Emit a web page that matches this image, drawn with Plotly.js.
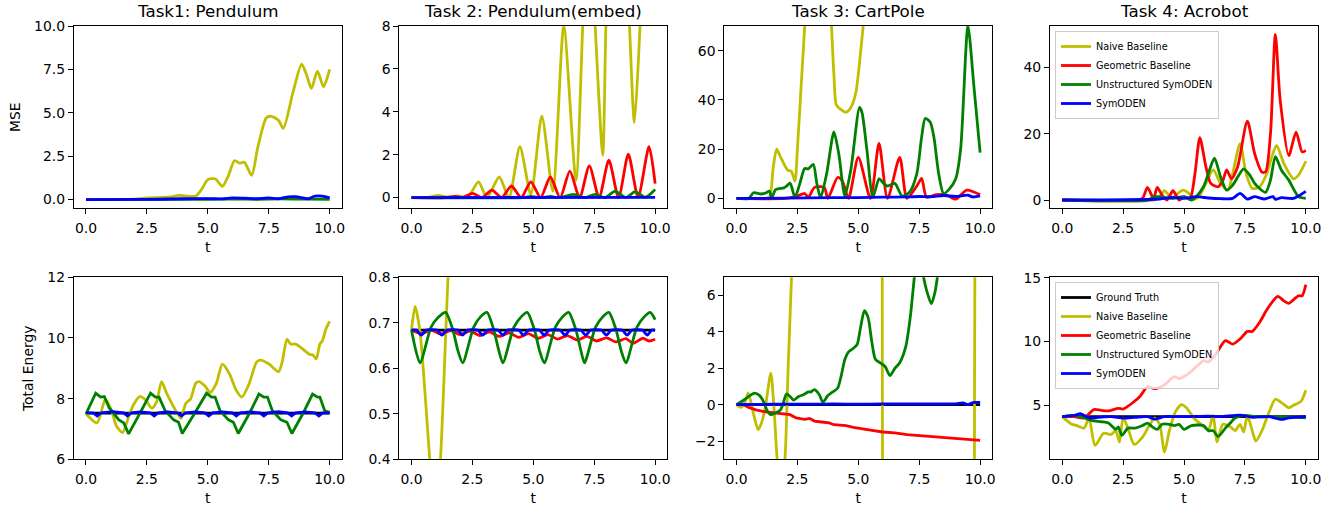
<!DOCTYPE html>
<html><head><meta charset="utf-8">
<script src="https://cdn.plot.ly/plotly-3.0.1.min.js"></script>
<style>html,body{margin:0;padding:0;background:#fff;} #chart{width:1341px;height:510px;}</style>
</head><body><div id="chart"></div>
<script>
// ---------- tick labels ----------
const T_TICKS = [0, 2.5, 5, 7.5, 10];
const T_TEXT = ['0.0', '2.5', '5.0', '7.5', '10.0'];
const Y1_TICKS = [0, 2.5, 5, 7.5, 10];
const Y1_TEXT = ['0.0', '2.5', '5.0', '7.5', '10.0'];
const Y2_TICKS = [0, 2, 4, 6, 8];
const Y3_TICKS = [0, 20, 40, 60];
const Y4_TICKS = [0, 20, 40];
const Y5_TICKS = [6, 8, 10, 12];
const Y6_TICKS = [0.4, 0.5, 0.6, 0.7, 0.8];
const Y6_TEXT = ['0.4', '0.5', '0.6', '0.7', '0.8'];
const Y7_TICKS = [-2, 0, 2, 4, 6];
const Y7_TEXT = ['\u22122', '0', '2', '4', '6'];
const Y8_TICKS = [5, 10, 15];

const TITLES = ['Task1: Pendulum', 'Task 2: Pendulum(embed)', 'Task 3: CartPole', 'Task 4: Acrobot'];

// ---------- Task 1 MSE ----------
const naive1_t = [0, 1, 2, 2.5, 3, 3.5, 3.8, 4.2, 4.5, 4.75, 5.0, 5.3, 5.6, 5.85, 6.1, 6.3, 6.5, 6.8, 7.05, 7.4, 7.6, 7.9, 8.1, 8.5, 8.85, 9.05, 9.25, 9.5, 9.75, 10];
const naive1_y = [0, 0.01, 0.03, 0.1, 0.12, 0.15, 0.25, 0.2, 0.2, 0.6, 1.15, 1.2, 0.77, 1.4, 2.25, 2.1, 2.15, 1.4, 3.0, 4.7, 4.8, 4.57, 4.1, 6.2, 7.8, 7.2, 6.4, 7.4, 6.5, 7.5];
const unstr1_t = [0, 2, 4, 5, 6, 7, 8, 9, 10];
const unstr1_y = [0, 0, 0.02, 0.02, 0.03, 0.02, 0.04, 0.03, 0.02];
const sym1_t = [0, 2, 3, 4, 5, 5.6, 6, 6.5, 7, 7.5, 7.9, 8.3, 8.6, 8.9, 9.1, 9.4, 9.7, 10];
const sym1_y = [0, 0.01, 0.02, 0.05, 0.06, 0.04, 0.1, 0.08, 0.05, 0.1, 0.05, 0.16, 0.17, 0.1, 0.05, 0.2, 0.2, 0.1];

// ---------- Task 2 MSE ----------
const naive2_t = [0, 0.6, 1.1, 1.5, 1.9, 2.3, 2.75, 3.1, 3.6, 4.0, 4.45, 4.9, 5.35, 5.8, 6.25, 6.75, 7.03, 7.3, 7.54, 7.85, 7.98, 8.45, 8.95, 9.15, 9.38, 9.7, 10];
const naive2_y = [0, 0, 0.1, 0.02, 0.08, 0.0, 0.73, 0.0, 0.96, 0.0, 2.37, 0.15, 3.8, 0.3, 8.0, 0.8, 8, 14, 8, 1.98, 8, 25, 8, 3.5, 8, 20, 12];
const geo2_t = [0, 1.4, 1.8, 2.1, 2.5, 2.9, 3.3, 3.7, 4.1, 4.5, 4.9, 5.3, 5.7, 6.1, 6.5, 6.9, 7.3, 7.7, 8.1, 8.5, 8.9, 9.3, 9.75, 10];
const geo2_y = [0, 0, 0.06, 0, 0.2, 0, 0.35, 0, 0.54, 0, 0.73, 0, 0.96, 0, 1.23, 0, 1.48, 0, 1.74, 0, 2.02, 0.02, 2.37, 0.65];
const unstr2_t = [0, 4.6, 4.9, 5.3, 5.7, 6.1, 6.65, 7.1, 7.54, 7.95, 8.36, 8.8, 9.18, 9.6, 10];
const unstr2_y = [0, 0, 0.05, 0, 0.05, 0, 0.15, 0, 0.15, 0, 0.3, 0, 0.28, 0.02, 0.38];
const sym2_t = [0, 10];
const sym2_y = [0, 0.01];

// ---------- Task 3 MSE ----------
const naive3_t = [0, 1.0, 1.35, 1.5, 1.65, 1.8, 2.0, 2.1, 2.25, 2.4, 2.5, 2.65, 2.8, 3.0, 3.4, 3.8, 3.9, 4.0, 4.1, 4.3, 4.5, 4.7, 4.9, 5.1, 5.2, 5.5, 6, 7, 8, 9, 10];
const naive3_y = [0, 0, 0.5, 12, 20, 17, 13, 11.5, 11, 7, 20, 45, 70, 110, 150, 90, 70, 50, 38, 36, 35, 37, 43, 60, 70, 120, 200, 300, 300, 300, 300];
const geo3_t = [0, 2.0, 2.5, 2.8, 2.95, 3.2, 3.6, 3.75, 4.15, 4.35, 4.6, 5.0, 5.5, 5.85, 6.2, 6.7, 7.0, 7.4, 7.6, 7.8, 8.2, 8.6, 9.0, 9.45, 10];
const geo3_y = [0, 0, 1, 2, 0.5, 4.5, 4.5, 0, 8.5, 7, 0, 16.7, 0, 22.3, 0, 16.7, 0, 5, 8.1, 0.5, 1.5, 1.5, -0.3, 3.4, 1.5];
const unstr3_t = [0, 0.5, 0.7, 1.0, 1.2, 1.35, 1.45, 1.6, 1.75, 1.95, 2.05, 2.2, 2.4, 2.6, 2.8, 2.95, 3.15, 3.3, 3.45, 3.7, 4.0, 4.2, 4.45, 4.7, 5.05, 5.15, 5.35, 5.6, 5.85, 6.0, 6.2, 6.5, 6.8, 7.1, 7.4, 7.6, 7.75, 7.95, 8.1, 8.3, 8.5, 8.75, 9.0, 9.2, 9.5, 9.75, 10];
const unstr3_y = [0, 0, 2.3, 1.8, 2.2, 3, 0.3, 3.5, 4.0, 4.3, 5.0, 6.2, 0.5, 6, 12.2, 12, 13.8, 6, 0.3, 10, 27, 18, 1, 12, 37, 35, 20, 0.5, 8, 6.5, 5, 6.1, 1, 2.5, 10, 25, 32.5, 31, 25, 10, 2, 4, 8, 20, 70, 45, 18.6];
const sym3_t = [0, 2, 4, 5, 6, 7, 7.5, 8, 8.5, 9, 9.5, 9.7, 10];
const sym3_y = [0, 0.1, 0.3, 0.3, 0.5, 0.6, 0.8, 0.7, 1.2, 0.8, 1.3, 0.6, 1.0];

// ---------- Task 4 MSE ----------
const naive4_t = [0, 3.8, 4.0, 4.2, 4.5, 4.75, 4.95, 5.2, 5.4, 5.6, 5.9, 6.2, 6.5, 6.8, 7.0, 7.3, 7.55, 7.8, 8.1, 8.4, 8.6, 8.8, 9.1, 9.5, 9.7, 10];
const naive4_y = [0, 0, 1, 2.8, 0.5, 2, 3, 2, 0.2, 1, 5, 9.1, 5, 3, 8, 17, 8, 3.5, 4, 8, 13, 16.5, 11, 6.4, 7.5, 11.7];
const geo4_t = [0, 3.0, 3.3, 3.5, 3.75, 3.9, 4.1, 4.3, 4.55, 4.8, 5.0, 5.25, 5.45, 5.65, 5.9, 6.1, 6.4, 6.6, 6.75, 6.95, 7.2, 7.6, 7.9, 8.2, 8.35, 8.55, 8.75, 8.95, 9.3, 9.6, 9.85, 10];
const geo4_y = [0, 0, 0.5, 3.8, 0.5, 3.8, 1.5, 0, 2.8, 0, 1, 0.5, 8, 18.8, 10, 5, 4, 6, 9.1, 6.4, 10, 23.8, 14, 8.4, 8.5, 20, 50, 30, 13.4, 20.5, 14.5, 15];
const unstr4_t = [0, 3.5, 3.8, 4.0, 4.5, 5.0, 5.3, 5.5, 5.8, 6.0, 6.25, 6.5, 6.75, 7.0, 7.25, 7.45, 7.7, 7.9, 8.1, 8.35, 8.55, 8.75, 9.0, 9.3, 9.7, 10];
const unstr4_y = [0, 0, 1, 1, 0.5, 1, 0, 1, 4, 8, 12.6, 7, 3, 4.5, 7.5, 9.4, 7.5, 5, 3.5, 2.3, 6, 13.1, 9, 6, 1, 0.5];
const sym4_t = [0, 4, 4.5, 5.0, 5.5, 6.0, 6.5, 7.0, 7.3, 7.6, 7.9, 8.3, 8.65, 8.75, 9.0, 9.5, 10];
const sym4_y = [0, 0.3, 0.8, 0.5, 1, 0.6, 0.4, 0.5, 2, 0.3, 1, 0.3, 1, 0.2, 0.7, 0.5, 2.6];

// ---------- Task 1 Energy ----------
const gt5_t = [0, 10];
const gt5_y = [7.52, 7.52];
const naive5_t = [0, 0.45, 0.8, 1.05, 1.25, 1.5, 1.75, 1.95, 2.2, 2.45, 2.7, 2.9, 3.1, 3.3, 3.55, 3.75, 3.9, 4.0, 4.1, 4.3, 4.5, 4.65, 4.9, 5.1, 5.35, 5.6, 5.9, 6.15, 6.4, 6.7, 6.8, 7.0, 7.15, 7.5, 7.9, 8.05, 8.25, 8.4, 8.6, 8.8, 9.2, 9.3, 9.45, 9.6, 9.7, 9.85, 10];
const naive5_y = [7.5, 7.2, 7.98, 7.6, 7.1, 6.88, 7.4, 7.8, 8.07, 7.95, 7.68, 7.9, 8.56, 8.2, 7.8, 7.5, 7.35, 7.6, 7.85, 8.0, 8.5, 8.56, 8.4, 8.2, 8.5, 9.14, 8.8, 8.3, 8.05, 8.5, 8.75, 9.2, 9.27, 9.15, 8.89, 9.2, 9.96, 9.8, 9.8, 9.7, 9.45, 9.45, 9.31, 9.8, 9.9, 10.3, 10.55];
const unstr5_t = [0, 0.4, 0.6, 0.75, 0.95, 1.1, 1.35, 1.55, 1.75, 2.2, 2.65, 2.85, 3.0, 3.25, 3.6, 3.8, 3.95, 4.45, 4.95, 5.15, 5.3, 5.5, 5.85, 6.05, 6.25, 6.7, 7.1, 7.3, 7.45, 7.65, 8.0, 8.25, 8.45, 8.9, 9.3, 9.5, 9.6, 9.8, 10];
const unstr5_y = [7.5, 8.18, 8.05, 8.07, 7.7, 7.55, 7.3, 7.2, 6.84, 7.5, 8.18, 8.05, 8.05, 7.6, 7.3, 7.22, 6.85, 7.5, 8.18, 8.05, 8.05, 7.6, 7.3, 7.22, 6.85, 7.5, 8.15, 8.05, 8.05, 7.6, 7.3, 7.22, 6.85, 7.5, 8.15, 8.05, 8.05, 7.6, 7.55];
const sym5_t = [0, 0.3, 0.46, 0.62, 1.1, 1.54, 1.7, 1.86, 2.25, 2.64, 2.8, 2.96, 3.35, 3.76, 3.92, 4.08, 4.5, 4.88, 5.04, 5.2, 5.6, 6.01, 6.17, 6.33, 6.75, 7.14, 7.3, 7.46, 7.9, 8.28, 8.44, 8.6, 9.0, 9.4, 9.56, 9.72, 10];
const sym5_y = [7.53, 7.53, 7.43, 7.53, 7.57, 7.53, 7.43, 7.53, 7.56, 7.53, 7.43, 7.53, 7.56, 7.53, 7.43, 7.53, 7.56, 7.53, 7.43, 7.53, 7.56, 7.53, 7.43, 7.53, 7.56, 7.53, 7.43, 7.53, 7.57, 7.53, 7.43, 7.53, 7.56, 7.53, 7.43, 7.53, 7.53];

// ---------- Task 2 Energy ----------
const gt6_t = [0, 10];
const gt6_y = [0.684, 0.684];
const naive6_t = [0, 0.15, 0.35, 0.55, 0.75, 0.97, 1.19, 1.5, 1.8, 2.2, 3, 4, 5, 6, 7, 8, 9, 10];
const naive6_y = [0.684, 0.736, 0.68, 0.55, 0.4, 0.26, 0.4, 0.8, 1.1, 1.3, 1.4, 1.5, 1.5, 1.6, 1.6, 1.7, 1.7, 1.8];
const geo6_t = [0, 0.4, 0.8, 1.2, 1.6, 2.0, 2.4, 2.8, 3.2, 3.6, 4.0, 4.4, 4.8, 5.2, 5.6, 6.0, 6.4, 6.8, 7.2, 7.6, 8.0, 8.4, 8.8, 9.1, 9.5, 9.75, 10];
const geo6_y = [0.684, 0.676, 0.684, 0.675, 0.683, 0.674, 0.682, 0.672, 0.68, 0.67, 0.678, 0.668, 0.676, 0.666, 0.674, 0.664, 0.672, 0.662, 0.67, 0.66, 0.667, 0.658, 0.665, 0.655, 0.666, 0.66, 0.664];
const unstr6_t = [0, 0.35, 0.8, 1.1, 1.4, 1.7, 1.9, 2.1, 2.55, 2.83, 3.1, 3.38, 3.58, 3.75, 4.2, 4.5, 4.75, 5.05, 5.25, 5.45, 5.9, 6.2, 6.45, 6.75, 6.95, 7.1, 7.55, 7.85, 8.1, 8.4, 8.6, 8.8, 9.25, 9.55, 9.8, 10];
const unstr6_y = [0.684, 0.612, 0.69, 0.712, 0.723, 0.684, 0.64, 0.612, 0.69, 0.713, 0.723, 0.684, 0.64, 0.612, 0.69, 0.713, 0.723, 0.684, 0.64, 0.612, 0.69, 0.713, 0.723, 0.684, 0.64, 0.612, 0.69, 0.713, 0.723, 0.684, 0.64, 0.612, 0.69, 0.713, 0.723, 0.707];
const sym6_t = [0, 0.2, 0.4, 0.6, 0.82, 1.05, 1.25, 1.45, 1.67, 1.9, 2.1, 2.3, 2.5, 2.72, 2.92, 3.12, 3.35, 3.55, 3.75, 3.95, 4.18, 4.4, 4.6, 4.8, 5.03, 5.25, 5.45, 5.65, 5.88, 6.1, 6.3, 6.5, 6.73, 6.95, 7.15, 7.35, 7.58, 7.8, 8.0, 8.2, 8.42, 8.65, 8.85, 9.05, 9.27, 9.48, 9.68, 9.86, 10];
const sym6_y = [0.684, 0.684, 0.673, 0.684, 0.685, 0.684, 0.673, 0.684, 0.685, 0.684, 0.673, 0.684, 0.685, 0.684, 0.673, 0.684, 0.685, 0.684, 0.673, 0.684, 0.685, 0.684, 0.673, 0.684, 0.685, 0.684, 0.673, 0.684, 0.685, 0.684, 0.673, 0.684, 0.685, 0.684, 0.673, 0.684, 0.685, 0.684, 0.673, 0.684, 0.685, 0.684, 0.673, 0.684, 0.685, 0.684, 0.673, 0.684, 0.684];

// ---------- Task 3 Energy ----------
const gt7_t = [0, 10];
const gt7_y = [0, 0];
const naive7_t = [0, 0.18, 0.35, 0.48, 0.7, 0.89, 1.05, 1.2, 1.41, 1.53, 1.67, 1.83, 1.99, 2.12, 2.26, 2.5, 3, 4, 5, 5.9, 5.97, 6.04, 6.2, 7, 8, 9, 9.7, 9.76, 9.8, 10];
const naive7_y = [0, -0.15, 0.15, 0.65, -0.5, -1.38, -0.9, 0, 1.74, 0, -3, -5, -3, 2, 7, 15, 25, 30, 30, 25, 20, -20, -25, -30, -30, -25, -20, -15, 15, 25];
const geo7_t = [0, 0.3, 0.5, 0.8, 1.2, 1.5, 2.0, 2.2, 2.45, 2.8, 3.0, 3.2, 3.5, 3.8, 4.0, 4.5, 4.8, 5.2, 5.5, 6.0, 6.5, 7.0, 7.5, 8.0, 8.5, 9.0, 9.5, 10];
const geo7_y = [0, 0, -0.15, -0.28, -0.4, -0.45, -0.5, -0.55, -0.73, -0.8, -0.75, -0.9, -0.95, -1.0, -1.1, -1.15, -1.25, -1.35, -1.4, -1.5, -1.55, -1.65, -1.7, -1.75, -1.8, -1.85, -1.9, -1.96];
const unstr7_t = [0, 0.35, 0.55, 0.75, 0.95, 1.1, 1.25, 1.4, 1.6, 1.8, 1.9, 2.05, 2.2, 2.35, 2.55, 2.75, 2.95, 3.05, 3.2, 3.4, 3.55, 3.75, 3.95, 4.15, 4.3, 4.45, 4.6, 4.8, 4.95, 5.1, 5.25, 5.4, 5.55, 5.7, 5.9, 6.1, 6.3, 6.5, 6.7, 6.95, 7.15, 7.3, 7.45, 7.6, 7.8, 8.0, 8.15, 8.3, 8.6, 9, 9.5, 10];
const unstr7_y = [0, 0.3, 0.5, 0.64, 0.5, 0.2, -0.3, -0.55, -0.45, -0.3, 0, 0.59, 0.45, 0.25, 0.45, 0.55, 0.7, 0.7, 0.83, 0.55, 0.13, 0.5, 0.7, 0.9, 1.6, 2.5, 2.9, 3.1, 3.3, 4.3, 5.17, 4.8, 3.5, 2.5, 2.3, 2.1, 1.6, 2.0, 2.3, 3.2, 5, 7, 8.5, 7.5, 6.3, 5.54, 6.2, 7.5, 10, 12, 14, 15];
const sym7_t = [0, 1, 2, 3, 4, 5, 6, 7, 8, 9, 9.3, 9.5, 9.7, 10];
const sym7_y = [0, 0.02, 0.03, 0.03, 0.04, 0.03, 0.04, 0.04, 0.05, 0.05, 0.1, 0.0, 0.12, 0.12];

// ---------- Task 4 Energy ----------
const gt8_t = [0, 10];
const gt8_y = [4.1, 4.1];
const naive8_t = [0, 0.4, 0.6, 0.9, 1.1, 1.35, 1.7, 2.0, 2.2, 2.35, 2.5, 2.7, 2.95, 3.3, 3.6, 3.8, 4.0, 4.2, 4.4, 4.65, 4.9, 5.1, 5.4, 5.7, 6.0, 6.2, 6.35, 6.6, 6.9, 7.1, 7.3, 7.45, 7.6, 7.8, 7.95, 8.2, 8.5, 8.75, 9.0, 9.3, 9.5, 9.8, 10];
const naive8_y = [4.1, 3.5, 3.4, 3.2, 4.0, 1.84, 2.8, 2.7, 3.0, 2.1, 4.0, 3.2, 1.92, 2.5, 3.5, 4.0, 3.5, 1.32, 3.0, 4.5, 5.05, 4.8, 4.0, 3.5, 3.1, 4.2, 2.1, 3.5, 3.3, 3.0, 3.5, 2.9, 4.2, 3.0, 2.18, 3.0, 4.5, 5.47, 5.2, 4.8, 5.0, 5.3, 6.18];
const geo8_t = [0, 0.5, 0.9, 1.3, 1.6, 1.9, 2.3, 2.5, 2.9, 3.2, 3.5, 3.8, 4.2, 4.6, 4.8, 5.2, 5.6, 5.8, 6.0, 6.3, 6.7, 7.0, 7.3, 7.6, 7.8, 8.1, 8.4, 8.7, 8.85, 9.1, 9.3, 9.5, 9.7, 9.85, 10];
const geo8_y = [4.1, 4.1, 4.0, 4.66, 4.6, 4.55, 4.75, 4.7, 5.2, 5.7, 6.45, 6.3, 6.6, 7.24, 7.1, 7.5, 8.2, 8.5, 8.4, 9.0, 10.08, 9.8, 10.2, 10.8, 10.8, 11.5, 12.5, 13.3, 13.55, 13.2, 13.0, 13.3, 13.6, 13.6, 14.47];
const unstr8_t = [0, 0.5, 0.9, 1.2, 1.6, 1.9, 2.2, 2.3, 2.45, 2.7, 3.0, 3.3, 3.5, 3.7, 3.9, 4.1, 4.4, 4.6, 4.8, 5.0, 5.3, 5.8, 6.0, 6.2, 6.4, 6.7, 6.9, 7.1, 7.5, 8.0, 9.0, 10];
const unstr8_y = [4.1, 4.2, 4.0, 3.8, 3.7, 3.6, 3.1, 3.3, 2.63, 3.2, 3.2, 3.4, 3.6, 3.3, 3.1, 3.5, 3.5, 3.4, 3.5, 3.1, 3.4, 3.4, 3.0, 3.0, 2.55, 3.2, 3.6, 4.0, 4.2, 4.1, 4.1, 4.0];
const sym8_t = [0, 0.5, 0.75, 1.1, 1.5, 2, 2.5, 3, 3.5, 3.8, 4.2, 5, 6, 6.5, 7.3, 7.8, 8.5, 9.0, 9.3, 10];
const sym8_y = [4.1, 4.2, 4.33, 4.0, 4.05, 4.1, 3.98, 4.05, 4.1, 3.9, 4.1, 4.1, 4.15, 4.1, 4.22, 4.05, 4.1, 3.88, 4.0, 4.1];

// ---------- styling ----------
const COLORS = {gt: '#000000', naive: '#bfbf00', geo: '#ff0000', unstr: '#008000', sym: '#0000ff'};
const NAMES = {gt: 'Ground Truth', naive: 'Naive Baseline', geo: 'Geometric Baseline', unstr: 'Unstructured SymODEN', sym: 'SymODEN'};
const FONT = 'DejaVu Sans, sans-serif';
const W = 1341, H = 510, LW = 2.8;
const colLeft = [73.8, 399.3, 724.3, 1050], colW = 268;
const rows = [[26, 208.3], [277.3, 459.3]];

const panels = [
  {series: [['naive', naive1_t, naive1_y], ['unstr', unstr1_t, unstr1_y], ['sym', sym1_t, sym1_y]], range: [-0.5, 10], tv: Y1_TICKS, tt: Y1_TEXT, ytitle: 'MSE', ystand: 10},
  {series: [['naive', naive2_t, naive2_y], ['geo', geo2_t, geo2_y], ['unstr', unstr2_t, unstr2_y], ['sym', sym2_t, sym2_y]], range: [-0.5, 8], tv: Y2_TICKS},
  {series: [['naive', naive3_t, naive3_y], ['geo', geo3_t, geo3_y], ['unstr', unstr3_t, unstr3_y], ['sym', sym3_t, sym3_y]], range: [-4, 70], tv: Y3_TICKS},
  {series: [['naive', naive4_t, naive4_y], ['geo', geo4_t, geo4_y], ['unstr', unstr4_t, unstr4_y], ['sym', sym4_t, sym4_y]], range: [-2.5, 52.5], tv: Y4_TICKS, legend: 'legend'},
  {series: [['gt', gt5_t, gt5_y], ['naive', naive5_t, naive5_y], ['unstr', unstr5_t, unstr5_y, 'linear'], ['sym', sym5_t, sym5_y, 'linear']], range: [6, 12], tv: Y5_TICKS, ytitle: 'Total Energy', ystand: 10},
  {series: [['gt', gt6_t, gt6_y], ['naive', naive6_t, naive6_y], ['geo', geo6_t, geo6_y], ['unstr', unstr6_t, unstr6_y], ['sym', sym6_t, sym6_y]], range: [0.4, 0.8], tv: Y6_TICKS, tt: Y6_TEXT},
  {series: [['gt', gt7_t, gt7_y], ['naive', naive7_t, naive7_y], ['geo', geo7_t, geo7_y, 'linear'], ['unstr', unstr7_t, unstr7_y], ['sym', sym7_t, sym7_y]], range: [-3, 7], tv: Y7_TICKS, tt: Y7_TEXT},
  {series: [['gt', gt8_t, gt8_y], ['naive', naive8_t, naive8_y], ['geo', geo8_t, geo8_y], ['unstr', unstr8_t, unstr8_y], ['sym', sym8_t, sym8_y]], range: [0.75, 15.05], tv: Y8_TICKS, legend: 'legend2'}
];

const tickFont = {family: FONT, size: 13.9, color: '#000'};
const axisBase = {
  showline: true, mirror: true, linecolor: '#000', linewidth: 1,
  ticks: 'outside', ticklen: 5, tickwidth: 1, tickcolor: '#000',
  showgrid: false, zeroline: false, tickfont: tickFont, fixedrange: true, automargin: false
};

const data = [];
const legendBase = {xanchor: 'left', yanchor: 'top', bgcolor: 'rgba(255,255,255,0.8)', bordercolor: '#cccccc', borderwidth: 1, font: {family: FONT, size: 9.7, color: '#000'}, itemwidth: 30, tracegroupgap: 0};
const layout = {
  width: W, height: H, margin: {l: 0, r: 0, t: 0, b: 0},
  paper_bgcolor: '#fff', plot_bgcolor: '#fff',
  font: {family: FONT, color: '#000'},
  showlegend: true, annotations: [],
  legend: Object.assign({x: 1055 / W, y: 1 - 31 / H}, legendBase),
  legend2: Object.assign({x: 1055 / W, y: 1 - 282 / H}, legendBase)
};

panels.forEach((p, i) => {
  const n = i + 1;
  const sfx = n === 1 ? '' : String(n);
  const col = i % 4, row = Math.floor(i / 4);
  const x0 = colLeft[col] / W, x1 = (colLeft[col] + colW) / W;
  const y0 = 1 - rows[row][1] / H, y1 = 1 - rows[row][0] / H;
  layout['xaxis' + sfx] = Object.assign({}, axisBase, {
    domain: [x0, x1], anchor: 'y' + sfx, range: [-0.5, 10.5],
    tickmode: 'array', tickvals: T_TICKS, ticktext: T_TEXT, ticklabelstandoff: 2,
    title: {text: 't', font: {family: FONT, size: 13.9, color: '#000'}, standoff: 7}
  });
  const ya = Object.assign({}, axisBase, {
    domain: [y0, y1], anchor: 'x' + sfx, range: p.range,
    tickmode: 'array', tickvals: p.tv, ticktext: p.tt || p.tv.map(String)
  });
  if (p.ytitle) ya.title = {text: p.ytitle, font: {family: FONT, size: 13.9, color: '#000'}, standoff: p.ystand};
  layout['yaxis' + sfx] = ya;
  if (row === 0) {
    layout.annotations.push({text: TITLES[col], xref: 'paper', yref: 'paper', x: (x0 + x1) / 2, y: 1 - 11 / H, xanchor: 'center', yanchor: 'middle', showarrow: false, font: {family: FONT, size: 16.7, color: '#000'}});
  }
  p.series.forEach(s => {
    const key = s[0];
    const tr = {
      type: 'scatter', mode: 'lines', x: s[1], y: s[2], name: NAMES[key],
      xaxis: 'x' + sfx, yaxis: 'y' + sfx,
      line: {color: COLORS[key], width: LW, shape: s[3] || 'spline', smoothing: 0.7},
      hoverinfo: 'skip'
    };
    if (p.legend) { tr.legend = p.legend; tr.showlegend = true; } else { tr.showlegend = false; }
    data.push(tr);
  });
});

Plotly.newPlot('chart', data, layout, {displayModeBar: false, staticPlot: true});
</script></body></html>
